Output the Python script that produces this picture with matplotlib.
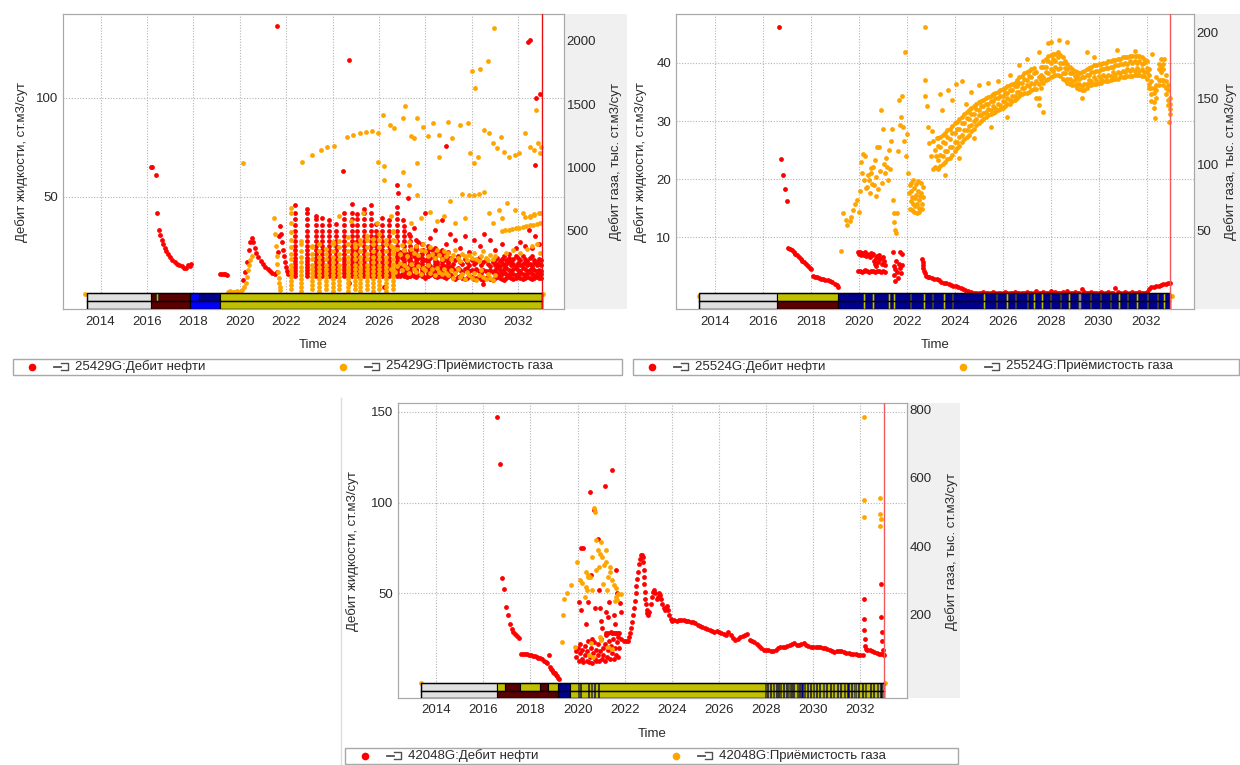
import numpy as np
import matplotlib
matplotlib.use("Agg")
import matplotlib.pyplot as plt
from matplotlib.patches import Rectangle
from matplotlib.lines import Line2D
from matplotlib.transforms import blended_transform_factory

plt.rcParams['font.family'] = ['Liberation Sans', 'DejaVu Sans']
plt.rcParams['font.size'] = 9.5

W, H = 1240, 765
TEXT = '#2a2a2a'
RED = '#ff0000'
ORANGE = '#ffa500'
YEARS = [2014, 2016, 2018, 2020, 2022, 2024, 2026, 2028, 2030, 2032]
XLIM = (2012.38, 2033.98)

# цвета статуса скважины
GRAY = '#e0e0e0'
DRED = '#5a0000'
BLUE = '#0000ff'
NAVY = '#00008e'
OLIVE = '#c0c000'
DGRAY = '#606060'

# ---------------- 25429G ----------------
p1_oil_t = [
    2016.16, 2016.22, 2016.37, 2016.45, 2016.52, 2016.58, 2016.64, 2016.7, 2016.77, 2016.84, 2016.92,
    2017.0, 2017.1, 2017.2, 2017.3, 2017.4, 2017.5, 2017.6, 2017.68, 2017.76, 2017.84, 2017.92,
    2019.15, 2019.22, 2019.3, 2019.38, 2019.46,
    2020.15, 2020.22, 2020.3, 2020.38, 2020.45, 2020.52, 2020.58, 2020.65, 2020.72, 2020.8, 2020.9,
    2021.0, 2021.1, 2021.2, 2021.3, 2021.4, 2021.5,
    2021.62, 2021.66, 2021.7, 2021.74, 2021.78, 2021.82, 2021.86, 2021.9, 2021.95, 2022.0, 2022.05, 2022.1,
    2021.62, 2024.72, 2024.46, 2026.79, 2026.81, 2027.25, 2028.91, 2032.41, 2032.53, 2032.76, 2032.94, 2032.71,
    2027.05, 2027.3, 2027.5, 2027.7, 2027.99, 2028.2, 2028.4, 2028.7, 2028.9, 2029.05,
    2029.3, 2029.5, 2029.7, 2029.9, 2030.1, 2030.35, 2030.55, 2030.8, 2031.0, 2031.3,
    2031.6, 2031.9, 2032.1, 2032.3, 2032.45, 2032.6, 2032.75, 2032.9, 2026.23, 2024.72, 2030.47,
]
p1_oil_v = [
    65, 65, 61, 42, 33, 30.5, 28, 26, 24, 22.5, 21,
    19.5, 18, 17, 16, 15.5, 15, 14, 13.8, 15.5, 15, 16,
    11, 11, 11, 10.8, 10.6,
    8, 12, 17, 23, 27, 29, 27, 24, 21.5, 19.5, 17.5,
    16, 14.5, 13.5, 12.5, 11.5, 11,
    12, 22, 30, 35, 31, 27, 23, 20, 17, 14.5, 12.5, 11,
    136, 119, 63, 56, 52, 49.4, 75.6, 128, 129, 100, 102, 66,
    38, 31, 34, 27, 42, 29, 33, 38, 26, 31,
    28, 24, 30, 22, 28, 25, 31, 28, 23, 26,
    21, 24, 27, 25, 33, 24, 30, 26, 4.2, 6.2, 5.9,
]

# столбики циклов (время, верх столбика)
p1_col_t = [2022.4, 2022.9, 2023.27, 2023.55, 2023.84, 2024.13, 2024.49, 2024.85, 2025.07, 2025.35,
            2025.64, 2025.86, 2026.15, 2026.43, 2026.8, 2027.1, 2027.35, 2027.6, 2027.85, 2028.1,
            2028.4, 2028.7, 2029.0]
p1_col_top = [46, 44, 40, 39, 38, 36, 42, 46.5, 41, 44, 46, 36, 39, 38, 45, 35, 30, 28, 26, 25, 24, 23, 22]
p1_oil_levels = [46, 42, 38.5, 35.5, 32.5, 30, 27.5, 25, 23, 21, 19, 17.5, 16, 14.5, 13, 11.5, 10]

# плотная полоса 2026.8 - 2033.0, шаг 0.1 года
p1_band_t = np.round(np.arange(2026.8, 2033.05, 0.1), 2)
p1_band_lo = [10.5, 10,
              11, 10.5, 9.5, 10, 11, 10, 9.5, 10.5, 11, 10,
              9, 10, 10.5, 11, 10, 9.5, 10, 10.5, 9.5, 9,
              10, 10.5, 9, 8.5, 9.5, 10, 9, 8.5, 9, 10,
              9.5, 8.5, 9, 9.5, 8.5, 8, 9, 9.5, 8.5, 8,
              9, 9.5, 9, 8.5, 8, 9, 9.5, 9, 8.5, 9,
              9.5, 9, 8.5, 9, 9.5, 9, 8.5, 9, 9.5, 9,
              9]
p1_band_mid = [14, 15,
               16, 14, 13, 15, 17, 14, 13, 16, 15, 13.5,
               14, 16, 15, 13, 14.5, 16, 14, 13, 15, 14,
               13, 14.5, 13.5, 12.5, 14, 13, 12, 13.5, 14, 12.5,
               13, 12, 13.5, 12.5, 11.5, 13, 12.5, 12, 13, 12,
               13, 14, 13, 12, 13.5, 14, 13, 12.5, 13.5, 14,
               13, 12.5, 14, 13.5, 12.5, 13, 14, 13, 12.5, 13,
               12.5]
p1_band_hi = [20, 22,
              19, 23, 21, 18, 22, 20, 24, 19, 21, 23,
              18, 21, 19, 23, 20, 17, 22, 19, 18, 21,
              17, 19, 16, 18, 20, 17, 16, 18.5, 17, 15.5,
              18, 16, 17, 19, 15.5, 17, 18, 16, 15, 17,
              18, 19, 17.5, 18.5, 20, 18, 19, 17.5, 18.5, 20,
              19, 18, 20, 18.5, 17.5, 19, 20, 18, 17, 18.5,
              18]
p1_late_t = np.round(np.arange(2031.0, 2033.05, 0.1), 2)
p1_late_a = [15.5, 16, 15, 16.5, 15.5, 16, 17, 15.5, 16, 15, 16.5, 15.5, 16, 17, 15.5, 16, 15, 16.5, 15.5, 16, 15.5]
p1_late_b = [11, 11.5, 10.5, 11, 12, 11, 10.5, 11.5, 11, 10.5, 11, 11.5, 11, 10.5, 11, 12, 11, 10.5, 11, 11.5, 11]

p1_gas_t = [
    2013.35, 2033.08,
    2019.5, 2019.6, 2019.7, 2019.8, 2019.9, 2020.0, 2020.1, 2020.2, 2020.25, 2020.3, 2020.35, 2020.4, 2020.45, 2020.55, 2020.15,
    2021.46, 2021.5, 2021.55, 2021.6, 2021.62, 2021.65, 2021.68, 2021.7, 2021.72, 2021.75,
    2022.69, 2023.13, 2023.49, 2023.75, 2024.07, 2024.63, 2024.9, 2025.17, 2025.43, 2025.7,
    2025.96, 2026.19, 2026.49, 2026.67, 2027.02, 2027.11, 2027.37, 2027.5, 2027.64, 2027.9,
    2028.13, 2028.35, 2028.6, 2028.96, 2029.14, 2029.5, 2029.85, 2029.94, 2030.11, 2030.29,
    2030.55, 2030.73, 2030.91, 2031.08, 2031.26, 2031.39, 2031.62, 2031.88, 2032.06, 2032.32,
    2032.5, 2032.68, 2032.85, 2032.94, 2032.98, 2025.96, 2026.23, 2027.64, 2028.6,
    2030.03, 2030.15, 2030.38, 2030.7, 2030.96, 2032.76,
    2026.23, 2027.02, 2027.29, 2027.64, 2029.05, 2029.58, 2029.9, 2030.11, 2030.3, 2030.55,
    2030.73, 2031.17, 2031.53, 2031.88, 2032.2, 2032.5, 2032.7, 2032.94, 2026.5, 2027.4,
    2027.8, 2028.2, 2028.5, 2028.8, 2029.3, 2029.7, 2030.9, 2031.3, 2024.3, 2024.8,
    2025.3, 2025.9,
    2031.3, 2031.45, 2031.6, 2031.75, 2031.9, 2032.05, 2032.2, 2032.35, 2032.5, 2032.65, 2032.8, 2032.95,
    2032.3, 2032.5, 2032.7, 2032.9, 2031.5, 2031.8, 2032.1, 2032.4, 2032.6, 2032.8, 2032.95,
]
p1_gas_v = [
    0, 0,
    20, 25, 15, 20, 30, 22, 35, 55, 90, 140, 190, 230, 270, 300, 1037,
    600, 480, 380, 300, 240, 180, 130, 90, 60, 35,
    1042, 1100, 1139, 1166, 1174, 1245, 1258, 1271, 1284, 1289,
    1276, 1416, 1337, 1311, 1389, 1487, 1250, 1232, 1389, 1324,
    1250, 1350, 1258, 1358, 1232, 1337, 1350, 1113, 1034, 1087,
    1297, 1271, 1192, 1153, 1245, 1126, 1087, 1100, 1113, 1271,
    1166, 1139, 1192, 1113, 1160, 1042, 1016, 1034, 1087,
    1763, 1626, 1776, 1845, 2105, 1455,
    903, 968, 863, 784, 740, 792, 780, 784, 790, 810,
    639, 666, 718, 666, 640, 613, 625, 639, 620, 560,
    600, 650, 580, 620, 560, 600, 560, 600, 620, 580,
    640, 560,
    500, 510, 505, 515, 520, 525, 530, 540, 545, 550, 555, 560,
    610, 620, 630, 640, 330, 350, 330, 360, 380, 400, 330,
]
p1_gcol_t = [2022.2, 2022.65, 2023.1, 2023.42, 2023.7, 2024.0, 2024.3, 2024.67, 2024.96, 2025.2,
             2025.5, 2025.75, 2026.0, 2026.3, 2026.6]
p1_gcol_top = [680, 420, 380, 400, 360, 410, 420, 450, 400, 430, 460, 440, 480, 430, 500]
# два набора уровней, через столбик
p1_gas_levels_a = [640, 560, 490, 430, 370, 320, 275, 235, 200, 165, 135, 105, 75, 45]
p1_gas_levels_b = [600, 525, 460, 400, 345, 297, 255, 218, 182, 150, 120, 90, 60, 30]
p1_gband_t = np.round(np.arange(2026.5, 2031.05, 0.1), 2)
p1_gband_a = [380, 340, 420, 360, 320,
              390, 350, 300, 410, 360, 330, 380, 310, 350, 400,
              340, 300, 370, 320, 290, 350, 310, 280, 340, 300,
              330, 280, 310, 350, 290, 260, 320, 300, 270, 310,
              290, 330, 280, 260, 300, 340, 290, 270, 310, 280,
              300]
p1_gband_b = [200, 240, 180, 220, 250,
              190, 230, 210, 170, 240, 200, 180, 220, 160, 210,
              190, 230, 170, 200, 150, 210, 180, 160, 200, 170,
              150, 190, 130, 170, 200, 140, 160, 120, 180, 150,
              130, 170, 110, 150, 190, 140, 120, 160, 130, 110,
              150]

p1_status_top = [(2013.42, 2016.16, GRAY), (2016.16, 2017.86, DRED), (2017.86, 2018.25, BLUE),
                 (2018.25, 2019.13, NAVY), (2019.13, 2033.05, OLIVE)]
p1_status_bot = [(2013.42, 2016.16, GRAY), (2016.16, 2017.86, DRED), (2017.86, 2019.13, BLUE),
                 (2019.13, 2033.05, OLIVE)]
p1_stripes = [(2016.41, OLIVE, 0.07, 'top')]

# ---------------- 25524G ----------------
p2_oil_t = [
    2016.69, 2016.77, 2016.85, 2016.94, 2017.02,
    2017.05, 2017.12, 2017.2, 2017.28, 2017.35, 2017.42, 2017.5, 2017.58, 2017.65, 2017.72,
    2017.8, 2017.88, 2017.95, 2018.02, 2018.1, 2018.18, 2018.26, 2018.35, 2018.44, 2018.52,
    2018.6, 2018.7, 2018.8, 2018.9, 2019.0, 2019.08, 2019.15,
    2019.95, 2020.0, 2020.05, 2020.1, 2020.15, 2020.2, 2020.25, 2020.3, 2020.35, 2020.4, 2020.45, 2020.5, 2020.55, 2020.6,
    2019.98, 2020.05, 2020.12, 2020.2, 2020.28, 2020.36, 2020.44, 2020.52, 2020.6, 2020.68, 2020.76, 2020.84, 2020.92, 2021.0, 2021.08,
    2020.62, 2020.66, 2020.7, 2020.74, 2020.78, 2020.82, 2020.86, 2020.9, 2020.95, 2021.0, 2021.05, 2021.1,
    2021.42, 2021.45, 2021.48, 2021.5, 2021.53, 2021.56, 2021.6, 2021.63, 2021.66, 2021.7, 2021.73, 2021.76, 2021.8, 2021.82,
    2022.64, 2022.66, 2022.68, 2022.7, 2022.73, 2022.77, 2022.82, 2022.88, 2022.95, 2023.05,
    2023.15, 2023.25, 2023.35, 2023.45, 2023.55, 2023.65, 2023.75, 2023.85, 2023.95, 2024.05,
    2024.15, 2024.25, 2024.35, 2024.45, 2024.55,
    2032.1, 2032.2, 2032.3, 2032.4, 2032.5, 2032.6, 2032.7, 2032.8, 2032.9, 2032.97,
]
p2_oil_v = [
    46.2, 23.4, 20.8, 18.3, 16.3,
    8.1, 8.0, 7.8, 7.5, 7.2, 6.9, 6.6, 6.3, 6.0, 5.7,
    5.4, 5.1, 4.8, 4.6, 3.3, 3.2, 3.1, 3.0, 2.9, 2.8,
    2.7, 2.6, 2.5, 2.3, 2.0, 1.8, 1.5,
    7.5, 7.2, 7.4, 6.9, 7.3, 7.0, 7.5, 6.8, 7.2, 7.0, 6.6, 7.3, 6.9, 7.1,
    4.2, 4.3, 4.1, 4.2, 4.4, 4.2, 4.1, 4.3, 4.2, 4.0, 4.2, 4.3, 4.1, 4.2, 4.0,
    6.0, 5.4, 6.5, 5.0, 6.8, 5.7, 7.0, 6.2, 5.5, 6.6, 5.9, 5.2,
    7.5, 5.0, 3.5, 4.5, 2.5, 6.0, 4.0, 3.0, 5.5, 7.5, 4.8, 3.8, 5.2, 7.2,
    6.2, 5.8, 5.3, 4.8, 4.3, 3.8, 3.4, 3.2, 3.1, 3.0,
    2.9, 2.8, 2.6, 2.4, 2.2, 2.1, 2.0, 1.8, 1.7, 1.7,
    1.5, 1.3, 1.1, 0.9, 0.7,
    1.2, 1.4, 1.5, 1.6, 1.7, 1.8, 1.9, 2.0, 2.1, 2.2,
]
p2_flat_t = np.round(np.arange(2024.7, 2032.05, 0.1), 2)
p2_flat_v = [0.6, 0.5, 0.5,
             0.5, 0.5, 0.6, 0.5, 0.5, 0.5, 0.6, 0.5, 0.5, 0.5,
             0.5, 0.6, 0.5, 0.5, 0.5, 0.6, 0.5, 0.5, 0.5, 0.5,
             0.6, 0.5, 0.5, 0.5, 0.7, 0.5, 0.5, 0.6, 0.5, 0.5,
             0.8, 0.5, 0.6, 0.5, 0.5, 0.6, 0.5, 0.7, 0.5, 0.5,
             0.6, 0.5, 0.5, 1.1, 0.6, 0.5, 0.5, 0.6, 0.5, 0.5,
             0.5, 0.6, 0.5, 0.5, 0.6, 0.5, 0.5, 1.3, 0.6, 0.5,
             0.5, 0.6, 0.5, 0.5, 0.6, 0.5, 0.5, 0.6, 0.5, 0.5,
             0.6]

p2_gas_t = [
    2013.33, 2019.28,
    2019.36, 2019.45, 2019.53, 2019.62, 2019.69, 2019.78, 2019.85, 2019.91, 2020.02,
    2020.05, 2020.1, 2020.14, 2020.19, 2020.24, 2020.27, 2020.3, 2020.35, 2020.38, 2020.44,
    2020.47, 2020.5, 2020.52, 2020.56, 2020.6, 2020.63, 2020.68, 2020.7, 2020.74, 2020.77,
    2020.8, 2020.85, 2020.88, 2020.93, 2020.96, 2021.01, 2021.04, 2021.1, 2021.14, 2021.18,
    2021.22, 2021.26, 2021.3, 2021.33, 2021.39, 2021.43, 2021.45, 2021.48, 2021.51, 2021.54,
    2021.59, 2021.62, 2021.67, 2021.72, 2021.76, 2021.79, 2021.85, 2021.88, 2021.92, 2021.95,
    2022.0, 2022.05,
    2022.1, 2022.13, 2022.16, 2022.2, 2022.23, 2022.26, 2022.3, 2022.33, 2022.36, 2022.4,
    2022.43, 2022.46, 2022.5, 2022.53, 2022.56, 2022.6, 2022.63, 2022.66, 2022.7,
    2022.12, 2022.22, 2022.32, 2022.42, 2022.52, 2022.62, 2022.18, 2022.28, 2022.38, 2022.48, 2022.58,
    2022.75, 2022.76, 2022.78, 2022.83, 2022.88, 2022.94, 2023.01, 2023.05, 2023.08, 2023.1,
    2023.16, 2023.2, 2023.24, 2023.28, 2023.32,
    2023.37, 2023.49, 2023.74, 2023.9, 2024.07, 2024.31, 2024.48, 2024.7, 2025.0, 2025.4,
    2025.8, 2026.3, 2026.7, 2027.0, 2027.5, 2027.9, 2028.03, 2028.36, 2028.69, 2029.51,
    2029.8, 2030.75, 2031.5, 2032.23, 2032.73, 2033.05,
    2023.6, 2024.2, 2024.8, 2025.5, 2026.2, 2027.7, 2029.3, 2032.35, 2032.95,
]
p2_gas_v = [
    0, 34,
    63, 58, 54, 57, 60, 65, 70, 73, 64,
    80, 102, 93, 108, 88, 106, 82, 83, 92, 88,
    78, 97, 93, 85, 98, 84, 103, 76, 90, 113,
    81, 113, 95, 141, 86, 127, 100, 93, 105, 98,
    88, 111, 96, 118, 127, 73, 63, 56, 50, 48,
    63, 110, 149, 130, 136, 152, 128, 118, 185, 106,
    123, 93,
    78, 84, 72, 80, 75, 70, 82, 74, 68, 77,
    70, 80, 73, 67, 76, 78, 70, 83, 75,
    66, 65, 64, 63, 64, 66, 86, 88, 85, 87, 86,
    204, 164, 152, 144, 128, 116, 106, 125, 118, 96,
    98, 111, 106, 120, 96,
    153, 141, 156, 149, 161, 163, 146, 155, 160, 162,
    163, 168, 175, 180, 185, 192, 193, 194, 193, 185,
    181, 187, 186, 184, 180, 0,
    92, 105, 120, 128, 136, 140, 150, 135, 132,
]
# плотная полоса приёмистости 2023.3 - 2033.0, шаг 0.1 года
p2_band_t = np.round(np.arange(2023.3, 2033.05, 0.1), 2)
p2_band_1 = [97, 99, 100, 102, 104, 105, 107,
             110, 112, 114, 117, 119, 121, 122, 125, 127, 130,
             131, 133, 134, 136, 137, 138, 139, 140, 141, 142,
             143, 144, 146, 146, 148, 149, 150, 152, 153, 154,
             154, 155, 156, 157, 150, 145, 158, 162, 164, 165,
             166, 167, 168, 168, 167, 165, 164, 162, 161, 160,
             160, 158, 157, 156, 156, 158, 160, 160, 161, 161,
             162, 162, 163, 163, 163, 164, 165, 165, 165, 166,
             166, 166, 167, 167, 167, 168, 168, 168, 167, 167,
             165, 158, 148, 143, 150, 160, 164, 160, 153, 145,
             138]
p2_band_2 = [103, 113, 106, 116, 110, 119, 113,
             124, 117, 127, 122, 131, 126, 134, 130, 138, 134,
             141, 137, 144, 140, 146, 141, 148, 143, 150, 145,
             152, 147, 154, 149, 156, 152, 159, 155, 162, 158,
             164, 159, 166, 161, 163, 150, 168, 166, 174, 169,
             177, 171, 178, 172, 177, 169, 173, 165, 169, 163,
             167, 161, 165, 159, 166, 161, 168, 163, 170, 164,
             171, 165, 172, 166, 173, 167, 174, 168, 175, 169,
             176, 170, 176, 171, 177, 171, 177, 171, 176, 170,
             173, 161, 158, 147, 160, 164, 174, 164, 163, 149,
             146]
p2_band_3 = [114, 107, 117, 110, 121, 113, 124,
             117, 127, 121, 131, 126, 135, 129, 138, 133, 142,
             137, 144, 139, 146, 142, 148, 144, 150, 146, 152,
             148, 154, 150, 156, 152, 159, 155, 162, 158, 165,
             160, 167, 162, 169, 157, 161, 164, 174, 170, 178,
             172, 180, 174, 181, 173, 177, 169, 172, 165, 169,
             164, 167, 161, 166, 161, 168, 164, 170, 166, 171,
             167, 172, 168, 173, 168, 174, 170, 175, 170, 176,
             171, 177, 172, 178, 172, 178, 173, 178, 172, 177,
             170, 168, 153, 154, 156, 172, 170, 172, 158, 156,
             142]
p2_band_4 = [120, 121, 122, 124, 126, 127, 129,
             131, 132, 134, 136, 138, 140, 141, 143, 144, 146,
             147, 148, 149, 150, 151, 152, 153, 154, 155, 156,
             157, 158, 159, 160, 161, 162, 164, 166, 167, 169,
             170, 171, 172, 173, 170, 166, 174, 178, 180, 182,
             183, 184, 184, 185, 183, 181, 178, 176, 174, 172,
             171, 170, 169, 170, 171, 172, 173, 174, 175, 175,
             176, 176, 177, 177, 178, 178, 179, 179, 180, 180,
             181, 181, 181, 182, 182, 182, 182, 182, 181, 180,
             178, 172, 163, 158, 166, 176, 180, 176, 168, 160,
             150]

p2_status_top = [(2013.35, 2016.61, GRAY), (2016.61, 2019.14, OLIVE), (2019.14, 2032.97, NAVY)]
p2_status_bot = [(2013.35, 2016.61, GRAY), (2016.61, 2019.14, DRED), (2019.14, 2032.97, NAVY)]
p2_stripe_t = [2020.19, 2020.57, 2021.23, 2021.44, 2022.13, 2022.69, 2023.04, 2023.52, 2023.87,
               2025.19, 2025.72, 2026.16, 2026.51, 2027.0, 2027.27, 2027.62, 2027.97, 2028.39,
               2028.73, 2029.64, 2030.05, 2030.47, 2030.82, 2031.17, 2031.58, 2032.0, 2032.42, 2032.7]
p2_stripes = [(t, OLIVE, 0.06, 'both') for t in p2_stripe_t] + [(2029.15, '#8a8a8a', 0.12, 'both')]

# ---------------- 42048G ----------------
p3_oil_t = [
    2016.6, 2016.71, 2016.78, 2016.88, 2016.95, 2017.06, 2017.12, 2017.2, 2017.28, 2017.36, 2017.44, 2017.52,
    2017.62, 2017.7, 2017.78, 2017.86, 2017.94, 2018.02, 2018.1, 2018.18, 2018.26, 2018.34, 2018.42, 2018.5,
    2018.58, 2018.66, 2018.72,
    2018.77, 2018.82, 2018.86, 2018.9, 2018.95, 2019.0, 2019.04, 2019.08, 2019.12, 2019.16, 2019.2,
    # облако 2020-2021
    2019.93, 2019.95, 2020.0, 2020.05, 2020.1, 2020.12, 2020.18, 2020.2, 2020.25, 2020.3,
    2020.32, 2020.38, 2020.4, 2020.45, 2020.5, 2020.52, 2020.58, 2020.6, 2020.65, 2020.7,
    2020.72, 2020.78, 2020.8, 2020.85, 2020.88, 2020.92, 2020.95, 2021.0, 2021.02, 2021.08,
    2021.1, 2021.15, 2021.18, 2021.22, 2021.25, 2021.3, 2021.32, 2021.38, 2021.4, 2021.45,
    2021.48, 2021.52, 2021.55, 2021.58, 2021.62, 2021.65, 2021.68, 2021.7, 2021.72, 2021.75,
    2021.2, 2021.3, 2021.4, 2021.5, 2021.6, 2021.7,
    2020.16, 2020.25, 2020.51, 2020.68, 2020.86, 2021.15, 2021.47, 2020.05, 2020.16, 2020.35,
    2020.45, 2020.55, 2020.72, 2020.62, 2020.9, 2020.95, 2021.0, 2021.05, 2021.2, 2021.3,
    2021.35, 2021.55, 2021.6, 2021.64, 2021.68, 2021.8, 2021.85,
    # горб 2022-2023
    2021.75, 2021.85, 2021.95, 2022.05, 2022.12, 2022.18, 2022.22, 2022.26, 2022.3, 2022.34,
    2022.38, 2022.42, 2022.46, 2022.5, 2022.54, 2022.58, 2022.62, 2022.66, 2022.7, 2022.74,
    2022.76, 2022.78, 2022.8, 2022.82, 2022.84, 2022.86, 2022.88, 2022.9, 2022.93, 2022.96,
    2023.0,
    2023.05, 2023.1, 2023.15, 2023.2, 2023.25, 2023.3, 2023.35, 2023.4, 2023.45, 2023.5,
    2023.55, 2023.6, 2023.65, 2023.7, 2023.75, 2023.8, 2023.85, 2023.9, 2023.95, 2024.0,
    # всплеск в конце
    2032.1, 2032.14, 2032.15, 2032.16, 2032.18, 2032.2, 2032.25, 2032.3, 2032.4, 2032.5,
    2032.6, 2032.7, 2032.8, 2032.86, 2032.88, 2032.89, 2032.9, 2032.92, 2032.95, 2032.98,
    2033.0,
]
p3_oil_v = [
    147, 121, 58.6, 52.2, 42.7, 38, 33, 30.5, 29, 27.5, 26.5, 25.5,
    16.8, 16.8, 16.6, 16.4, 16.2, 16.0, 15.6, 15.3, 15.0, 14.6, 14.2, 13.6,
    13.0, 12.3, 11.8,
    15.9, 9.5, 8.2, 7.6, 6.9, 6.4, 6.0, 5.3, 4.5, 3.6, 2.7,
    18, 15, 20, 13, 17, 22, 14, 19, 12, 16,
    21, 13, 18, 24, 12, 15, 20, 11.5, 17, 23,
    14, 19, 12.5, 16, 22, 13, 18, 25, 14, 20,
    16, 13, 22, 27, 15, 19, 24, 14, 21, 28,
    17, 25, 14, 20, 28, 16, 23, 26, 15, 20,
    28, 28, 28.5, 28, 28, 28,
    75, 75, 106, 96, 80, 109, 118, 45, 41, 33,
    45, 60, 42, 25, 52, 42, 35, 31, 40, 37,
    45, 38, 33, 63, 50, 44.5, 40,
    28, 25, 24, 23.5, 24, 26, 28, 31, 34, 38,
    42, 46, 50, 54, 58, 62, 66, 69, 71, 71,
    70, 67, 63, 59, 55, 51, 47, 44, 41, 39,
    38,
    40, 44, 48, 51, 52, 50, 47, 48, 50, 49,
    47, 44, 42, 41, 42, 43, 41, 38, 36, 35,
    16, 46.7, 36, 30, 25, 21, 19.5, 19, 18.7, 18.3,
    17.8, 17.3, 16.8, 16.5, 55, 37, 28.5, 23.5, 19, 16.5,
    16,
]
# спад 2024.1 - 2032.0, шаг 0.1 года
p3_decl_t = np.round(np.arange(2024.1, 2032.05, 0.1), 2)
p3_decl_v = [35.2, 35.0, 35.3, 35.5, 35.2, 34.8, 34.6, 34.5, 34.2,
             33.5, 32.8, 32.2, 31.7, 31.0, 30.5, 30.0, 29.5, 29.0, 29.2,
             28.8, 28.2, 27.8, 27.3, 28.8, 27.0, 25.3, 24.5, 24.6, 25.8,
             26.5, 27.2, 27.8, 24.5, 23.6, 23.0, 22.0, 20.8, 19.8, 19.0,
             18.7, 18.8, 18.5, 18.3, 19.0, 19.7, 20.2, 20.6, 20.4, 20.8,
             21.5, 22.0, 22.5, 21.8, 21.4, 22.3, 22.5, 21.7, 21.0, 20.6,
             20.6, 20.5, 20.2, 20.2, 20.1, 19.9, 19.6, 19.0, 18.5, 17.9,
             18.2, 18.4, 18.1, 17.8, 17.3, 16.9, 16.7, 16.6, 16.5, 16.3,
             16.1]
p3_gas_t = [
    2013.35, 2019.33, 2019.38, 2019.43, 2019.56, 2019.73, 2019.99, 2020.11, 2020.2, 2020.34,
    2020.46, 2020.52, 2020.6, 2020.68, 2020.72, 2020.77, 2020.86, 2020.91, 2020.94, 2021.03,
    2021.12, 2021.2, 2021.29, 2021.38, 2021.46, 2021.55, 2021.64, 2021.72, 2021.85, 2019.9,
    2020.5, 2020.55, 2020.65, 2020.94, 2021.0, 2021.3, 2021.45, 2020.3, 2020.42, 2020.8,
    2021.08, 2021.25, 2021.6, 2020.36, 2020.44, 2020.62, 2020.98, 2021.22, 2021.36, 2021.62,
    2021.68, 2032.14, 2032.14, 2032.15, 2032.84, 2032.84, 2032.85, 2032.87, 2033.05,
]
p3_gas_v = [
    0, 120, 198, 244, 263, 286, 352, 300, 291, 281,
    315, 310, 369, 510, 500, 418, 388, 340, 378, 369,
    344, 388, 310, 325, 300, 286, 276, 261, 261, 105,
    81, 115, 76, 135, 125, 105, 100, 250, 270, 330,
    290, 270, 240, 325, 310, 271, 413, 354, 340, 252,
    242, 777, 535, 486, 540, 494, 458, 480, 0,
]
p3_status_top = [(2013.36, 2016.58, GRAY), (2016.58, 2016.93, OLIVE), (2016.93, 2017.54, DRED),
                 (2017.54, 2018.41, OLIVE), (2018.41, 2018.74, DRED), (2018.74, 2019.19, OLIVE),
                 (2019.19, 2019.69, NAVY), (2019.69, 2033.0, OLIVE)]
p3_status_bot = [(2013.36, 2016.58, GRAY), (2016.58, 2019.17, DRED), (2019.17, 2019.69, NAVY),
                 (2019.69, 2033.0, OLIVE)]
p3_stripe_t = [2020.0, 2020.1, 2020.45, 2020.55, 2020.7, 2020.85,
               2027.96, 2028.05, 2028.15, 2028.3, 2028.4, 2028.5, 2028.6, 2028.72, 2028.85, 2028.95,
               2029.05, 2029.15, 2029.3, 2029.4, 2029.5, 2029.62, 2029.75, 2029.85, 2029.97, 2030.1,
               2030.25, 2030.4, 2030.55, 2030.7, 2030.85, 2031.0, 2031.15, 2031.3, 2031.45, 2031.6,
               2031.75, 2031.9, 2032.05, 2032.2, 2032.4, 2032.55, 2032.7, 2032.85]
p3_stripes = [(t, NAVY if i % 3 else DGRAY, 0.05, 'both') for i, t in enumerate(p3_stripe_t)]


def px_rect(left, top, right, bottom):
    # перевод пиксельного прямоугольника в координаты фигуры
    return [left / W, 1 - bottom / H, (right - left) / W, (bottom - top) / H]


def make_panel(fig, box, strip_right, ylim_l, ylim_r, ticks_l, ticks_r):
    left, top, right, bottom = box
    fig.add_artist(Rectangle((right / W, 1 - bottom / H), (strip_right - right) / W, (bottom - top) / H,
                             transform=fig.transFigure, facecolor='#f0f0f0', edgecolor='none', zorder=-1))
    ax = fig.add_axes(px_rect(left, top, right, bottom))
    ax.set_xlim(*XLIM)
    ax.set_ylim(*ylim_l)
    ax.set_xticks(YEARS)
    ax.set_xticklabels([str(y) for y in YEARS])
    ax.set_yticks(ticks_l)
    ax.grid(True, color='#b4b4b4', linestyle=(0, (1, 1.5)), linewidth=0.8)
    ax.tick_params(axis='x', length=0, labelsize=9.5, labelcolor=TEXT, pad=4.5)
    ax.tick_params(axis='y', length=0, labelsize=9.5, labelcolor=TEXT, pad=3.5)
    ax2 = ax.twinx()
    ax2.set_ylim(*ylim_r)
    ax2.set_yticks(ticks_r)
    ax2.tick_params(axis='y', length=0, labelsize=9.5, labelcolor=TEXT, pad=2)
    for a in (ax, ax2):
        for s in a.spines.values():
            s.set_color('#a8a8a8')
    return ax, ax2


def dots(ax, t, v, color):
    n = min(len(t), len(v))
    ax.scatter(np.asarray(t[:n], dtype=float), np.asarray(v[:n], dtype=float),
               s=12, color=color, linewidths=0, zorder=3)


def columns(ax, col_t, col_top, level_sets, color):
    # столбики точек: уровни из списка ниже вершины столбика
    for i, (t, top) in enumerate(zip(col_t, col_top)):
        levels = level_sets[i % len(level_sets)]
        vals = [top] + [lv for lv in levels if lv < top - 1]
        dots(ax, [t] * len(vals), vals, color)


def status_bar(ax, top_row, bot_row, stripes, y_mid, y_top):
    tr = blended_transform_factory(ax.transData, ax.transAxes)
    for a, b, c in top_row:
        ax.add_patch(Rectangle((a, y_mid), b - a, y_top - y_mid, transform=tr, facecolor=c,
                               edgecolor='black', linewidth=0.8, zorder=5))
    for a, b, c in bot_row:
        ax.add_patch(Rectangle((a, 0), b - a, y_mid, transform=tr, facecolor=c,
                               edgecolor='black', linewidth=0.8, zorder=5))
    for t, c, w, rows in stripes:
        y0 = y_mid if rows == 'top' else 0
        ax.add_patch(Rectangle((t, y0), w, y_top - y0, transform=tr, facecolor=c,
                               edgecolor='#202020', linewidth=0.4, zorder=5.5))
    start, end = top_row[0][0], top_row[-1][1]
    ax.add_patch(Rectangle((start, 0), end - start, y_top, transform=tr, fill=False,
                           edgecolor='black', linewidth=1.0, zorder=6))
    ax.plot([start, end], [y_mid, y_mid], transform=tr, color='black', linewidth=1.0, zorder=6)


def legend_box(fig, box, well):
    x0, y0, x1, y1 = box
    w, h = x1 - x0, y1 - y0
    ax = fig.add_axes(px_rect(x0, y0, x1, y1))
    ax.set_xlim(0, w)
    ax.set_ylim(0, h)
    ax.axis('off')
    ax.add_patch(Rectangle((0.5, 0.5), w - 1, h - 1, facecolor='white', edgecolor='#a8a8a8',
                           linewidth=1, clip_on=False))
    yc = h / 2
    items = [(0, RED, well + ':Дебит нефти'), (311, ORANGE, well + ':Приёмистость газа')]
    for dx, color, label in items:
        ax.plot([20 + dx], [yc], 'o', color=color, markersize=5.5, markeredgewidth=0)
        ax.plot([42 + dx, 49 + dx], [yc, yc], color='#505050', linewidth=1.3)
        ax.plot([49 + dx, 56 + dx, 56 + dx, 49 + dx], [yc + 3.5, yc + 3.5, yc - 3.5, yc - 3.5],
                color='#505050', linewidth=1.0)
        ax.text(63 + dx, yc, label, va='center', ha='left', fontsize=9.5, color=TEXT)


def ftext(fig, x, y, s, rot=0):
    fig.text(x / W, 1 - y / H, s, ha='center', va='center', rotation=rot, fontsize=9.5, color=TEXT)


def main():
    fig = plt.figure(figsize=(12.4, 7.65), dpi=100)
    fig.patch.set_facecolor('white')

    # --- 25429G ---
    ax, ax2 = make_panel(fig, (63, 14, 564, 309.3), 627, (-6.9, 142.3), (-118, 2212),
                         [50, 100], [500, 1000, 1500, 2000])
    columns(ax, p1_col_t, p1_col_top, [p1_oil_levels], RED)
    dots(ax, p1_oil_t, p1_oil_v, RED)
    for band in (p1_band_lo, p1_band_mid, p1_band_hi):
        dots(ax, p1_band_t, band, RED)
    for band in (p1_late_a, p1_late_b):
        dots(ax, p1_late_t, band, RED)
    columns(ax2, p1_gcol_t, p1_gcol_top, [p1_gas_levels_a, p1_gas_levels_b], ORANGE)
    dots(ax2, p1_gas_t, p1_gas_v, ORANGE)
    for band in (p1_gband_a, p1_gband_b):
        dots(ax2, p1_gband_t, band, ORANGE)
    status_bar(ax2, p1_status_top, p1_status_bot, p1_stripes, 0.028, 0.055)
    ax2.axvline(2033.05, color='#e81010', linewidth=1, zorder=7)
    ftext(fig, 22, 162, 'Дебит жидкости, ст.м3/сут', 90)
    ftext(fig, 616, 162, 'Дебит газа, тыс. ст.м3/сут', 90)
    ftext(fig, 313, 345, 'Time')
    legend_box(fig, (12, 358, 622, 375), '25429G')

    # --- 25524G ---
    ax, ax2 = make_panel(fig, (676, 14, 1194, 309.3), 1240, (-2.37, 48.4), (-10.1, 214),
                         [10, 20, 30, 40], [50, 100, 150, 200])
    dots(ax, p2_oil_t, p2_oil_v, RED)
    dots(ax, p2_flat_t, p2_flat_v, RED)
    for band in (p2_band_1, p2_band_2, p2_band_3, p2_band_4):
        dots(ax2, p2_band_t, band, ORANGE)
    dots(ax2, p2_gas_t, p2_gas_v, ORANGE)
    status_bar(ax2, p2_status_top, p2_status_bot, p2_stripes, 0.028, 0.055)
    ax2.axvline(2032.97, color='#f05a5a', linewidth=1, zorder=7)
    ftext(fig, 641, 162, 'Дебит жидкости, ст.м3/сут', 90)
    ftext(fig, 1231, 162, 'Дебит газа, тыс. ст.м3/сут', 90)
    ftext(fig, 935, 345, 'Time')
    legend_box(fig, (632, 358, 1239, 375), '25524G')

    # --- 42048G ---
    fig.add_artist(Line2D([341 / W, 341 / W], [0, 1 - 398 / H], transform=fig.transFigure,
                          color='#dcdcdc', linewidth=1))
    ax, ax2 = make_panel(fig, (398, 403.3, 907, 698), 960, (-7.6, 154.6), (-44.8, 817.7),
                         [50, 100, 150], [200, 400, 600, 800])
    dots(ax, p3_oil_t, p3_oil_v, RED)
    dots(ax, p3_decl_t, p3_decl_v, RED)
    dots(ax2, p3_gas_t, p3_gas_v, ORANGE)
    status_bar(ax2, p3_status_top, p3_status_bot, p3_stripes, 0.024, 0.051)
    ax2.axvline(2033.0, color='#f05a5a', linewidth=1, zorder=7)
    ftext(fig, 353, 551, 'Дебит жидкости, ст.м3/сут', 90)
    ftext(fig, 952, 551, 'Дебит газа, тыс. ст.м3/сут', 90)
    ftext(fig, 652, 734, 'Time')
    legend_box(fig, (345, 747, 958, 764), '42048G')

    fig.savefig('out.png', dpi=100)


if __name__ == "__main__":
    main()
